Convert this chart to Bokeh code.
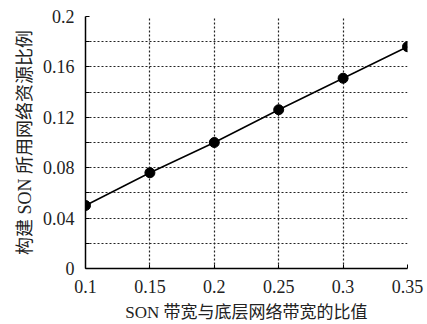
from bokeh.plotting import figure
from bokeh.models import FixedTicker, Range1d, CustomJSTickFormatter
from bokeh.embed import file_html
from bokeh.resources import INLINE

ratio = [0.10, 0.15, 0.20, 0.25, 0.30, 0.35]
share = [0.050, 0.076, 0.100, 0.126, 0.151, 0.176]
x_ticks = [0.10, 0.15, 0.20, 0.25, 0.30, 0.35]
y_ticks = [0.0, 0.04, 0.08, 0.12, 0.16, 0.20]
y_minor = [0.02, 0.06, 0.10, 0.14, 0.18]
y_grid = [0.02, 0.04, 0.06, 0.08, 0.10, 0.12, 0.14, 0.16, 0.18, 0.20]

FONT = "Liberation Serif, Noto Sans CJK SC"

p = figure(width=427, height=324, output_backend="svg", toolbar_location=None,
           x_range=Range1d(0.1, 0.35), y_range=Range1d(0, 0.2),
           min_border_left=85, min_border_right=20, min_border_top=16, min_border_bottom=56)
p.frame_width = 322
p.frame_height = 252
p.outline_line_color = None
p.background_fill_color = "white"
p.border_fill_color = "white"

p.xaxis.ticker = FixedTicker(ticks=x_ticks)
p.yaxis.ticker = FixedTicker(ticks=y_ticks, minor_ticks=y_minor)
fmt = CustomJSTickFormatter(code="return tick.toFixed(2).replace(/0+$/,'').replace(/\\.$/,'');")
p.xaxis.formatter = fmt
p.yaxis.formatter = fmt

for ax in (p.xaxis, p.yaxis):
    ax.axis_line_color = "black"
    ax.axis_line_width = 1.5
    ax.major_tick_in = 4
    ax.major_tick_out = 0
    ax.minor_tick_in = 4
    ax.minor_tick_out = 0
    ax.major_tick_line_color = "black"
    ax.minor_tick_line_color = "black"
    ax.major_label_text_font = FONT
    ax.major_label_text_font_size = "18px"
    ax.major_label_text_color = "#222222"
    ax.axis_label_text_font = FONT
    ax.axis_label_text_font_style = "normal"
    ax.axis_label_text_color = "#222222"

p.xaxis.axis_label_text_font_size = "17px"
p.yaxis.axis_label_text_font_size = "18px"
p.xaxis.major_label_standoff = 11
p.yaxis.major_label_standoff = 11
p.xaxis.axis_label = "SON 带宽与底层网络带宽的比值"
p.yaxis.axis_label = "构建 SON 所用网络资源比例"
p.xaxis.axis_label_standoff = 7
p.yaxis.axis_label_standoff = 5

p.xgrid.ticker = FixedTicker(ticks=x_ticks[1:])
p.ygrid.ticker = FixedTicker(ticks=y_grid)
for g in (p.xgrid, p.ygrid):
    g.grid_line_color = "#222222"
    g.grid_line_dash = "2 2"
    g.grid_line_width = 1.2
    g.minor_grid_line_color = None

p.line(ratio, share, line_color="black", line_width=1.5)
p.scatter(ratio, share, size=10, fill_color="black", line_color="black")

open("out.html", "w").write(file_html(p, INLINE))
